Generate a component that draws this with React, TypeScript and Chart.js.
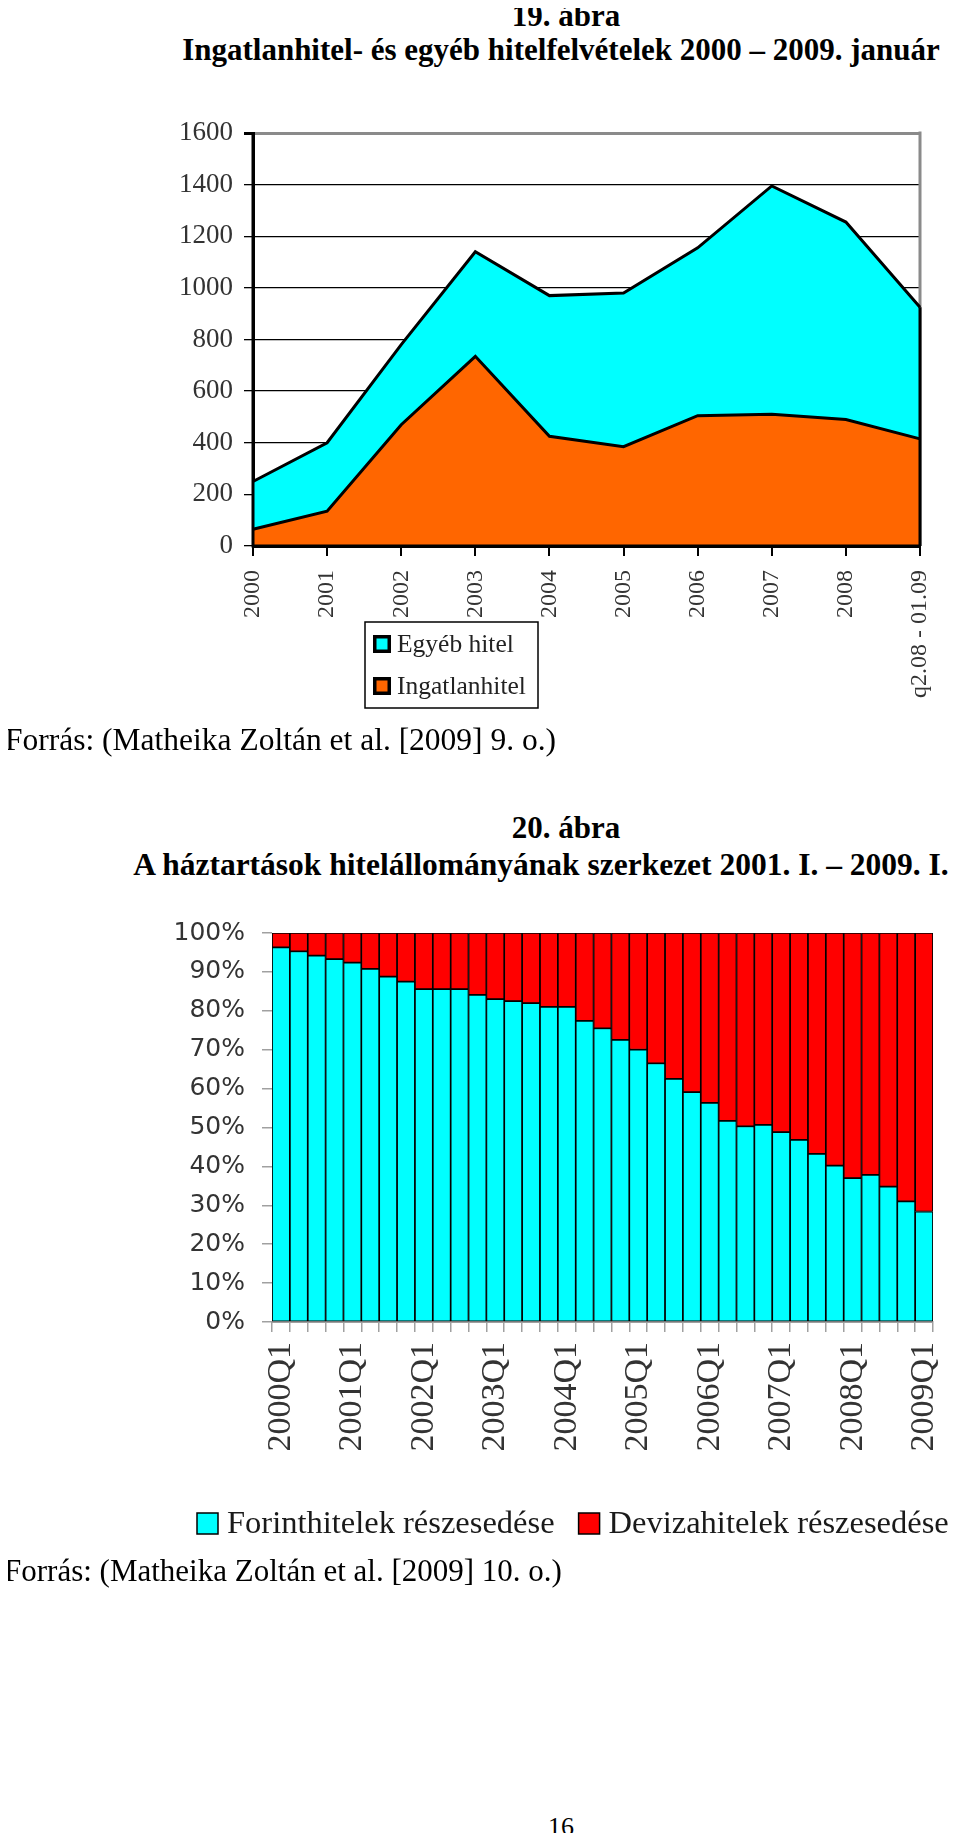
import React, { useEffect, useRef } from 'react';
import { Chart, registerables } from 'chart.js';

Chart.register(...registerables);

// ---------- Chart 19: stacked areas ----------
const YEARS = ['2000', '2001', '2002', '2003', '2004', '2005', '2006', '2007', '2008', 'q2.08 - 01.09'];
const INGATLANHITEL = [65, 135, 470, 735, 425, 385, 505, 510, 490, 415];
const EGYEB_HITEL = [185, 265, 310, 405, 545, 595, 650, 885, 765, 510];
const Y1_MAX = 1600;
const Y1_STEP = 200;

// ---------- Chart 20: 100% stacked bars ----------
const QUARTERS = [
  '2000Q1', '2000Q2', '2000Q3', '2000Q4',
  '2001Q1', '2001Q2', '2001Q3', '2001Q4',
  '2002Q1', '2002Q2', '2002Q3', '2002Q4',
  '2003Q1', '2003Q2', '2003Q3', '2003Q4',
  '2004Q1', '2004Q2', '2004Q3', '2004Q4',
  '2005Q1', '2005Q2', '2005Q3', '2005Q4',
  '2006Q1', '2006Q2', '2006Q3', '2006Q4',
  '2007Q1', '2007Q2', '2007Q3', '2007Q4',
  '2008Q1', '2008Q2', '2008Q3', '2008Q4',
  '2009Q1',
];
const FORINT = [
  96.3, 95.3, 94.2, 93.3, 92.4, 90.8, 88.8, 87.5, 85.6, 85.6,
  85.6, 84.1, 83.0, 82.5, 82.0, 81.0, 81.0, 77.4, 75.5, 72.5,
  70.0, 66.5, 62.5, 59.1, 56.3, 51.7, 50.3, 50.7, 48.8, 46.8,
  43.2, 40.2, 37.0, 37.8, 34.8, 31.0, 28.4,
];
const DEVIZA = [
  3.7, 4.7, 5.8, 6.7, 7.6, 9.2, 11.2, 12.5, 14.4, 14.4,
  14.4, 15.9, 17.0, 17.5, 18.0, 19.0, 19.0, 22.6, 24.5, 27.5,
  30.0, 33.5, 37.5, 40.9, 43.7, 48.3, 49.7, 49.3, 51.2, 53.2,
  56.8, 59.8, 63.0, 62.2, 65.2, 69.0, 71.6,
];

const SERIF = '"Liberation Serif", "Times New Roman", serif';
const SANS = '"DejaVu Sans", Verdana, sans-serif';

const zeroPadX = (h: number) => (s: any) => {
  s.height = h;
  s.paddingLeft = 0;
  s.paddingRight = 0;
};
const zeroPadY = (w: number) => (s: any) => {
  s.width = w;
  s.paddingTop = 0;
  s.paddingBottom = 0;
};

const frame1Plugin = {
  id: 'frame1',
  beforeDatasetsDraw(chart: any) {
    const { ctx, chartArea } = chart;
    ctx.save();
    ctx.strokeStyle = '#8a8a8a';
    ctx.lineWidth = 3;
    ctx.beginPath();
    ctx.moveTo(chartArea.right, chartArea.top - 1.5);
    ctx.lineTo(chartArea.right, chartArea.bottom);
    ctx.stroke();
    ctx.restore();
  },
  afterDatasetsDraw(chart: any) {
    const { ctx, chartArea } = chart;
    const meta = chart.getDatasetMeta(chart.data.datasets.length - 1);
    const last = meta.data[meta.data.length - 1];
    const y0 = chart.scales.y.getPixelForValue(0);
    ctx.save();
    ctx.strokeStyle = '#000';
    ctx.lineWidth = 3;
    ctx.beginPath();
    ctx.moveTo(last.x, last.y);
    ctx.lineTo(last.x, y0);
    ctx.moveTo(chartArea.left, chartArea.top);
    ctx.lineTo(chartArea.left, y0);
    ctx.lineTo(chartArea.right, y0);
    ctx.stroke();
    ctx.restore();
  },
};

const boxLegendPlugin = {
  id: 'boxLegend',
  afterDraw(chart: any, _args: any, opts: any) {
    const { ctx } = chart;
    const ds = chart.data.datasets.slice().reverse();
    ctx.save();
    ctx.fillStyle = '#fff';
    ctx.fillRect(opts.x, opts.y, opts.w, opts.h);
    ctx.strokeStyle = '#000';
    ctx.lineWidth = 1.5;
    ctx.strokeRect(opts.x, opts.y, opts.w, opts.h);
    ctx.font = `${opts.fontSize}px ${SERIF}`;
    ctx.textBaseline = 'middle';
    ds.forEach((d: any, i: number) => {
      const cy = opts.y + opts.firstRow + i * opts.rowGap;
      const s = opts.box;
      ctx.fillStyle = '#000';
      ctx.fillRect(opts.x + opts.boxX, cy - s / 2, s, s);
      ctx.fillStyle = d.backgroundColor;
      ctx.fillRect(opts.x + opts.boxX + 3.5, cy - s / 2 + 3.5, s - 7, s - 7);
      ctx.fillStyle = '#222';
      ctx.fillText(d.label, opts.x + opts.textX, cy + 1);
    });
    ctx.restore();
  },
};

const rowLegendPlugin = {
  id: 'rowLegend',
  afterDraw(chart: any, _args: any, opts: any) {
    const { ctx } = chart;
    ctx.save();
    ctx.font = `${opts.fontSize}px ${SERIF}`;
    ctx.textBaseline = 'alphabetic';
    let x = opts.x;
    chart.data.datasets.forEach((d: any) => {
      const s = opts.box;
      ctx.fillStyle = d.backgroundColor;
      ctx.fillRect(x, opts.boxTop, s, s);
      ctx.strokeStyle = '#000';
      ctx.lineWidth = 1.5;
      ctx.strokeRect(x, opts.boxTop, s, s);
      ctx.fillStyle = '#1a1a1a';
      const tx = x + s + opts.textGap;
      ctx.fillText(d.label, tx, opts.baseline);
      x = tx + ctx.measureText(d.label).width + opts.itemGap;
    });
    ctx.restore();
  },
};

function AreaChart() {
  const ref = useRef<HTMLCanvasElement>(null);
  useEffect(() => {
    const chart = new Chart(ref.current as HTMLCanvasElement, {
      type: 'line',
      data: {
        labels: YEARS,
        datasets: [
          {
            label: 'Ingatlanhitel',
            data: INGATLANHITEL,
            backgroundColor: '#FF6600',
            borderColor: '#000',
            borderWidth: 3,
            fill: 'origin',
            pointRadius: 0,
            tension: 0,
          },
          {
            label: 'Egyéb hitel',
            data: EGYEB_HITEL,
            backgroundColor: '#00FFFF',
            borderColor: '#000',
            borderWidth: 3,
            fill: '-1',
            pointRadius: 0,
            tension: 0,
          },
        ],
      },
      options: {
        responsive: false,
        animation: false,
        layout: { padding: { top: 23, right: 20, left: 0, bottom: 0 } },
        plugins: {
          legend: { display: false },
          tooltip: { enabled: false },
          boxLegend: { x: 205, y: 512, w: 173, h: 86, box: 18, boxX: 8, textX: 32, firstRow: 22, rowGap: 42, fontSize: 25.5 },
        } as any,
        scales: {
          x: {
            offset: false,
            grid: { drawOnChartArea: false, tickLength: 10, color: '#000', lineWidth: 2 },
            border: { color: '#000', width: 3 },
            ticks: {
              autoSkip: false,
              minRotation: 90,
              maxRotation: 90,
              padding: 14,
              color: '#333',
              font: { family: SERIF, size: 24 },
            },
            afterFit: zeroPadX(204),
          },
          y: {
            stacked: true,
            min: 0,
            max: Y1_MAX,
            ticks: {
              stepSize: Y1_STEP,
              padding: 11,
              color: '#333',
              font: { family: SERIF, size: 27 },
              callback: (v: any) => String(v),
            },
            grid: {
              color: (c: any) => (c.tick && c.tick.value === Y1_MAX ? '#8a8a8a' : '#000'),
              lineWidth: (c: any) => (c.tick && c.tick.value === Y1_MAX ? 3 : 1.3),
              tickColor: '#000',
              tickLength: 9,
            },
            border: { color: '#000', width: 3 },
            afterFit: zeroPadY(93),
          },
        },
      } as any,
      plugins: [frame1Plugin, boxLegendPlugin],
    });
    return () => chart.destroy();
  }, []);
  return <canvas ref={ref} width={780} height={640} style={{ position: 'absolute', left: 152, top: 102, width: 780, height: 640 }} />;
}

function BarChart() {
  const ref = useRef<HTMLCanvasElement>(null);
  useEffect(() => {
    const chart = new Chart(ref.current as HTMLCanvasElement, {
      type: 'bar',
      data: {
        labels: QUARTERS,
        datasets: [
          {
            label: 'Forinthitelek részesedése',
            data: FORINT,
            backgroundColor: '#00FFFF',
            borderColor: '#000',
            borderWidth: 1.2,
            borderSkipped: false,
            barPercentage: 1,
            categoryPercentage: 1,
          },
          {
            label: 'Devizahitelek részesedése',
            data: DEVIZA,
            backgroundColor: '#FF0000',
            borderColor: '#000',
            borderWidth: 1.2,
            borderSkipped: false,
            barPercentage: 1,
            categoryPercentage: 1,
          },
        ],
      },
      options: {
        responsive: false,
        animation: false,
        layout: { padding: { top: 23, right: 27, left: 0, bottom: 0 } },
        plugins: {
          legend: { display: false },
          tooltip: { enabled: false },
          rowLegend: { x: 47, boxTop: 603, box: 21, textGap: 9, itemGap: 24, baseline: 623, fontSize: 32.5 },
        } as any,
        scales: {
          x: {
            stacked: true,
            grid: { drawOnChartArea: false, tickLength: 10, color: '#a0a0a0', lineWidth: 1.5 },
            border: { color: '#a0a0a0', width: 2 },
            ticks: {
              autoSkip: false,
              minRotation: 90,
              maxRotation: 90,
              padding: 10,
              color: '#333',
              font: { family: SERIF, size: 34 },
              callback: (_v: any, i: number) => (i % 4 === 0 ? QUARTERS[i] : ''),
            },
            afterFit: zeroPadX(238),
          },
          y: {
            stacked: true,
            min: 0,
            max: 100,
            ticks: {
              stepSize: 10,
              padding: 17,
              color: '#333',
              font: { family: SANS, size: 25 },
              callback: (v: any) => `${v}%`,
            },
            grid: { drawOnChartArea: false, tickLength: 10, color: '#a0a0a0', lineWidth: 1.5 },
            border: { color: '#a0a0a0', width: 1 },
            afterFit: zeroPadY(122),
          },
        },
      } as any,
      plugins: [rowLegendPlugin],
    });
    return () => chart.destroy();
  }, []);
  return <canvas ref={ref} width={810} height={650} style={{ position: 'absolute', left: 142, top: 902, width: 810, height: 650 }} />;
}

function Txt(props: { text: string; x: number; baseline: number; size: number; bold?: boolean; center?: boolean }) {
  const { text, x, baseline, size, bold, center } = props;
  return (
    <div
      style={{
        position: 'absolute',
        left: x - 8,
        top: baseline - 0.8375 * size - 8,
        fontFamily: SERIF,
        fontSize: size,
        lineHeight: `${size}px`,
        fontWeight: bold ? 'bold' : 'normal',
        whiteSpace: 'nowrap',
        color: '#000',
        transform: center ? 'translateX(-50%)' : undefined,
      }}
    >
      {text}
    </div>
  );
}

export default function App() {
  return (
    <div style={{ position: 'relative', width: 944, height: 1825 }}>
      <Txt text="19. ábra" x={566} baseline={26} size={31} bold center />
      <Txt text="Ingatlanhitel- és egyéb hitelfelvételek 2000 – 2009. január" x={561} baseline={60} size={31} bold center />
      <AreaChart />
      <Txt text="Forrás: (Matheika Zoltán et al. [2009] 9. o.)" x={5} baseline={750} size={31.5} />
      <Txt text="20. ábra" x={566} baseline={838} size={31} bold center />
      <Txt text="A háztartások hitelállományának szerkezet 2001. I. – 2009. I." x={541} baseline={875} size={31.5} bold center />
      <BarChart />
      <Txt text="Forrás: (Matheika Zoltán et al. [2009] 10. o.)" x={4} baseline={1581} size={31} />
      <Txt text="16" x={561} baseline={1836} size={26} center />
    </div>
  );
}
